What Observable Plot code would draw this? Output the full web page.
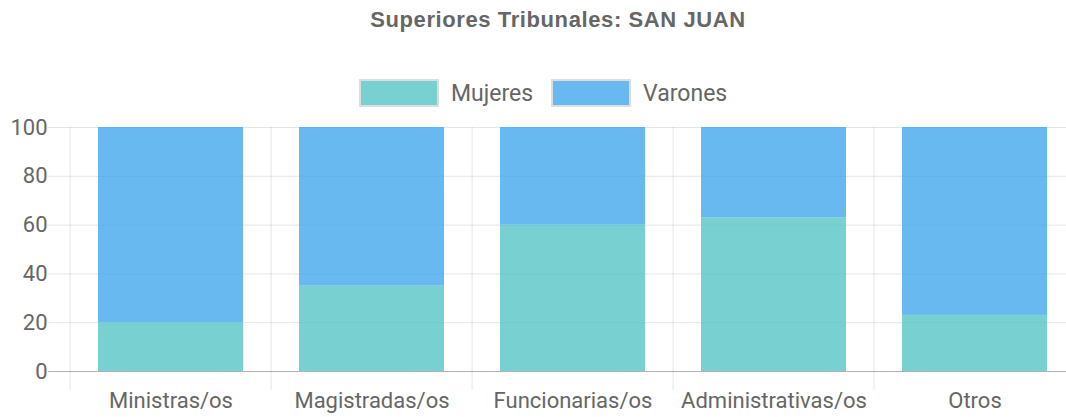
<!DOCTYPE html>
<html>
<head>
<meta charset="utf-8">
<script src="https://cdn.jsdelivr.net/npm/d3@7"></script>
<script src="https://cdn.jsdelivr.net/npm/@observablehq/plot@0.6"></script>
<style>
  html, body { margin: 0; padding: 0; background: #fff; }
  #wrap { position: relative; width: 1066px; height: 417px; overflow: hidden; font-family: Roboto, "Liberation Sans", sans-serif; }
  #title { position: absolute; top: 6px; left: 0; width: 1116px; text-align: center; font-family: "Liberation Sans", Arial, sans-serif; font-weight: bold; font-size: 22px; letter-spacing: 0.6px; line-height: 28px; color: #666; }
  #legend { position: absolute; top: 79px; left: 359px; display: flex; align-items: center; font-size: 23px; color: #666; }
  .sw { width: 80px; height: 28px; box-sizing: border-box; border: 2px solid #ddd; margin-right: 12px; }
  .item { display: flex; align-items: center; margin-right: 18px; }
  #chart { position: absolute; top: 115px; left: 0; }
</style>
</head>
<body>
<div id="wrap">
  <div id="title">Superiores Tribunales: SAN JUAN</div>
  <div id="legend"></div>
  <div id="chart"></div>
</div>
<script>
const categories = ["Ministras/os", "Magistradas/os", "Funcionarias/os", "Administrativas/os", "Otros"];
const mujeres = [20, 35, 60, 63, 23];
const varones = [80, 65, 40, 37, 77];
const seriesNames = ["Mujeres", "Varones"];
const seriesColors = ["rgb(75,192,192)", "rgb(54,162,235)"];
const yTicks = [0, 20, 40, 60, 80, 100];

const data = [];
categories.forEach((c, i) => {
  data.push({cat: c, serie: "Mujeres", value: mujeres[i]});
  data.push({cat: c, serie: "Varones", value: varones[i]});
});

// legend
const legend = document.getElementById("legend");
seriesNames.forEach((s, i) => {
  const it = document.createElement("div");
  it.className = "item";
  const sw = document.createElement("div");
  sw.className = "sw";
  sw.style.background = seriesColors[i].replace("rgb", "rgba").replace(")", ",0.75)");
  const lab = document.createElement("span");
  lab.textContent = s;
  it.appendChild(sw); it.appendChild(lab);
  legend.appendChild(it);
});

const step = (1077 - 68) / categories.length;

const chart = Plot.plot({
  width: 1066,
  height: 302,
  marginTop: 12,
  marginBottom: 46,
  marginLeft: 68,
  marginRight: 0,
  style: {fontFamily: "Roboto, 'Liberation Sans', sans-serif", fontSize: "22px", color: "#666", background: "transparent", overflow: "visible"},
  x: {domain: categories, range: [68, 1077], paddingInner: 0.28, paddingOuter: 0.14, label: null},
  y: {domain: [0, 100], label: null},
  color: {domain: seriesNames, range: seriesColors},
  marks: [
    Plot.ruleY(yTicks.filter(d => d > 0), {stroke: "#000", strokeOpacity: 0.1, insetLeft: -20}),
    Plot.ruleX(categories, {x: d => d, dx: -step / 2, stroke: "#000", strokeOpacity: 0.1, insetBottom: -19}),
    Plot.barY(data, {x: "cat", y: "value", fill: "serie", fillOpacity: 0.75, order: seriesNames}),
    Plot.ruleY([0], {stroke: "#000", strokeOpacity: 0.3, insetLeft: -20}),
    Plot.axisY({ticks: yTicks, tickSize: 0, tickPadding: 21, fill: "#666", fontSize: 22, label: null}),
    Plot.axisX({tickSize: 0, tickPadding: 21, fill: "#666", fontSize: 22, label: null})
  ]
});
document.getElementById("chart").appendChild(chart);
</script>
</body>
</html>
